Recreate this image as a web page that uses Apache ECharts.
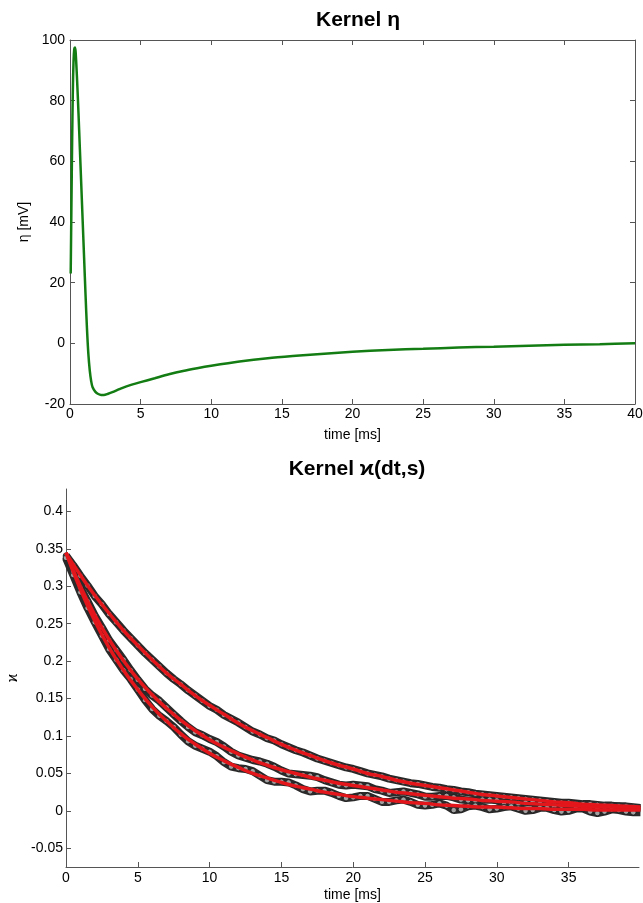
<!DOCTYPE html>
<html>
<head>
<meta charset="utf-8">
<script src="https://cdn.jsdelivr.net/npm/echarts@6/dist/echarts.min.js"></script>
<style>
  html, body { margin: 0; padding: 0; background: #fff; }
  #chart { width: 643px; height: 903px; }
</style>
</head>
<body>
<div id="chart"></div>
<script>
// kernel eta (top panel)
const etaTime = [0.05, 0.1, 0.15, 0.2, 0.25, 0.3, 0.35, 0.4, 0.5, 0.6, 0.7, 0.8, 0.9, 1.0, 1.1, 1.2, 1.3, 1.4, 1.5, 1.6,
  1.8, 2.0, 2.2, 2.4, 2.7, 3.0, 3.5, 4, 5, 6, 7, 8, 9, 10, 12, 14, 16, 18, 20, 22.5, 25, 27.5, 30, 32.5, 35, 37.5, 40];
const etaValue = [23, 45, 66, 83, 93, 97, 97.5, 96, 87, 76, 64, 52, 40, 28, 16, 5, -3.5, -9, -12.5, -14.5,
  -16, -16.7, -17, -17, -16.6, -16.1, -15.1, -14.2, -12.8, -11.5, -10.2, -9.1, -8.2, -7.4, -6.0, -4.9, -4.1, -3.4, -2.8, -2.2, -1.8, -1.4, -1.1, -0.8, -0.5, -0.3, 0];

// kernel kappa (bottom panel): fitted curves, 1 ms apart
const fitTime = [0, 1, 2, 3, 4, 5, 6, 7, 8, 9, 10, 11, 12, 13, 14, 15, 16, 17, 18, 19, 20,
  21, 22, 23, 24, 25, 26, 27, 28, 29, 30, 31, 32, 33, 34, 35, 36, 37, 38, 39, 40];
const upperFit = [.344, .315, .288, .264, .241, .221, .202, .184, .169, .154, .141, .129, .117, .107, .098, .089, .081, .074, .067, .061, .056,
  .050, .046, .041, .037, .034, .031, .028, .025, .022, .020, .018, .016, .014, .012, .011, .009, .008, .007, .006, .005];
const middleFit = [.345, .300, .262, .229, .201, .176, .155, .137, .121, .107, .095, .085, .076, .068, .061, .055, .050, .045, .041, .037, .034,
  .031, .028, .025, .023, .021, .019, .017, .016, .014, .013, .012, .010, .009, .008, .007, .006, .005, .005, .004, .003];
const lowerFit = [.345, .296, .254, .218, .188, .162, .139, .120, .103, .089, .077, .067, .058, .050, .044, .038, .033, .029, .025, .022, .019,
  .017, .015, .013, .011, .010, .008, .007, .006, .005, .005, .004, .003, .003, .002, .002, .002, .001, .001, .001, .001];

// measured points, every 0.5 ms
const sampleStep = 0.5;
const upperData = [
  .341, .328, .314, .301, .287, .276, .263, .252, .241, .231,
  .221, .211, .202, .193, .184, .176, .169, .161, .154, .147,
  .140, .135, .128, .123, .118, .112, .106, .102, .097, .094,
  .089, .085, .081, .078, .074, .070, .067, .064, .061, .058,
  .056, .053, .050, .048, .046, .043, .041, .039, .037, .036,
  .034, .032, .031, .029, .028, .026, .025, .023, .022, .021,
  .020, .019, .018, .017, .016, .015, .014, .013, .012, .011,
  .011, .010, .009, .009, .008, .007, .007, .006, .006, .005,
  .004];
const middleData = [
  .340, .319, .298, .280, .261, .245, .228, .215, .202, .188,
  .175, .163, .154, .147, .138, .129, .120, .112, .105, .101,
  .096, .092, .086, .079, .074, .071, .068, .066, .063, .059,
  .054, .050, .049, .048, .047, .045, .041, .038, .035, .034,
  .035, .034, .033, .029, .027, .024, .025, .026, .024, .022,
  .019, .019, .020, .020, .018, .015, .014, .014, .015, .015,
  .014, .011, .010, .010, .011, .012, .010, .008, .006, .007,
  .008, .009, .006, .005, .003, .005, .006, .006, .004, .003,
  .002];
const lowerData = [
  .338, .315, .292, .271, .252, .234, .216, .202, .188, .176,
  .162, .148, .136, .127, .120, .112, .102, .093, .087, .083,
  .079, .073, .065, .059, .057, .056, .053, .047, .041, .039,
  .039, .038, .034, .029, .026, .027, .027, .024, .020, .017,
  .018, .020, .020, .016, .012, .012, .014, .015, .012, .008,
  .007, .008, .010, .007, .001, .002, .006, .007, .005, .002,
  .003, .005, .006, .003, .000, .001, .004, .004, .001, -.001,
  .000, .003, .003, -.001, -.003, -.001, .002, .001, -.001, -.002,
  -.002];

const kappaXTicks = [0, 5, 10, 15, 20, 25, 30, 35];
const kappaYTicks = [-0.05, 0, 0.05, 0.1, 0.15, 0.2, 0.25, 0.3, 0.35, 0.4];

const axisColor = '#555';
const font = '"Liberation Sans", Arial, Helvetica, sans-serif';

const pairs = (xs, ys) => ys.map((y, i) => [xs[i], y]);
const sampled = (ys) => ys.map((y, i) => [i * sampleStep, y]);

const axisBase = {
  axisLine: { show: true, onZero: false, lineStyle: { color: axisColor, width: 1 } },
  axisTick: { show: true, inside: true, length: 5, lineStyle: { color: axisColor } },
  splitLine: { show: false },
  axisLabel: { color: '#000', fontSize: 14, fontFamily: font },
  nameTextStyle: { color: '#000', fontSize: 14, fontFamily: font },
};

const dataSeries = (ys) => ({
  type: 'line',
  xAxisIndex: 2,
  yAxisIndex: 2,
  z: 2,
  data: sampled(ys),
  symbol: 'circle',
  symbolSize: 5.5,
  showAllSymbol: true,
  itemStyle: { color: '#a0a0a0', borderColor: '#151515', borderWidth: 0.8 },
  lineStyle: { color: '#2a2a2a', width: 8 },
  silent: true,
});

const fitSeries = (ys) => ({
  type: 'line',
  xAxisIndex: 2,
  yAxisIndex: 2,
  z: 5,
  data: pairs(fitTime, ys),
  smooth: true,
  symbol: 'none',
  lineStyle: { color: '#e2161b', width: 3.5 },
});

const chart = echarts.init(document.getElementById('chart'));

const option = {
  backgroundColor: '#fff',
  animation: false,
  title: [
    {
      text: 'Kernel η',
      left: 353, top: 5, textAlign: 'center',
      textStyle: { fontSize: 21, fontWeight: 'bold', color: '#000', fontFamily: font },
    },
    {
      text: 'Kernel ϰ(dt,s)',
      left: 352, top: 454, textAlign: 'center',
      textStyle: { fontSize: 21, fontWeight: 'bold', color: '#000', fontFamily: font },
    },
  ],
  grid: [
    { left: 70, right: 8, top: 40, bottom: 499, outerBoundsMode: 'none' },
    { left: 66, right: 4, top: 489, bottom: 36, outerBoundsMode: 'none' },
  ],
  xAxis: [
    {
      ...axisBase,
      gridIndex: 0, type: 'value', position: 'bottom',
      min: 0, max: 40, interval: 5,
      axisLabel: { ...axisBase.axisLabel, margin: 3 },
      name: 'time [ms]', nameLocation: 'middle', nameGap: 24,
    },
    {
      ...axisBase,
      gridIndex: 0, type: 'value', position: 'top',
      min: 0, max: 40, interval: 5,
      axisLabel: { show: false },
    },
    {
      ...axisBase,
      gridIndex: 1, type: 'value', position: 'bottom',
      min: 0, max: 39.9,
      axisTick: { ...axisBase.axisTick, customValues: kappaXTicks },
      axisLabel: { ...axisBase.axisLabel, margin: 4, customValues: kappaXTicks },
      name: 'time [ms]', nameLocation: 'middle', nameGap: 21,
    },
  ],
  yAxis: [
    {
      ...axisBase,
      gridIndex: 0, type: 'value', position: 'left',
      min: -20, max: 100, interval: 20,
      axisLabel: { ...axisBase.axisLabel, margin: 5 },
      name: 'η [mV]', nameLocation: 'middle', nameGap: 37, nameRotate: 90,
    },
    {
      ...axisBase,
      gridIndex: 0, type: 'value', position: 'right',
      min: -20, max: 100, interval: 20,
      axisLabel: { show: false },
    },
    {
      ...axisBase,
      gridIndex: 1, type: 'value', position: 'left',
      min: -0.075, max: 0.43,
      axisTick: { ...axisBase.axisTick, customValues: kappaYTicks },
      axisLabel: { ...axisBase.axisLabel, margin: 3, customValues: kappaYTicks },
      name: 'ϰ', nameLocation: 'middle', nameGap: 34, nameRotate: 90,
    },
  ],
  series: [
    {
      type: 'line',
      xAxisIndex: 0,
      yAxisIndex: 0,
      data: pairs(etaTime, etaValue),
      smooth: 0.3,
      symbol: 'none',
      lineStyle: { color: '#137d13', width: 2.5 },
    },
    dataSeries(upperData),
    dataSeries(middleData),
    dataSeries(lowerData),
    fitSeries(upperFit),
    fitSeries(middleFit),
    fitSeries(lowerFit),
  ],
};

chart.setOption(option);
window.addEventListener('resize', () => chart.resize());
</script>
</body>
</html>
